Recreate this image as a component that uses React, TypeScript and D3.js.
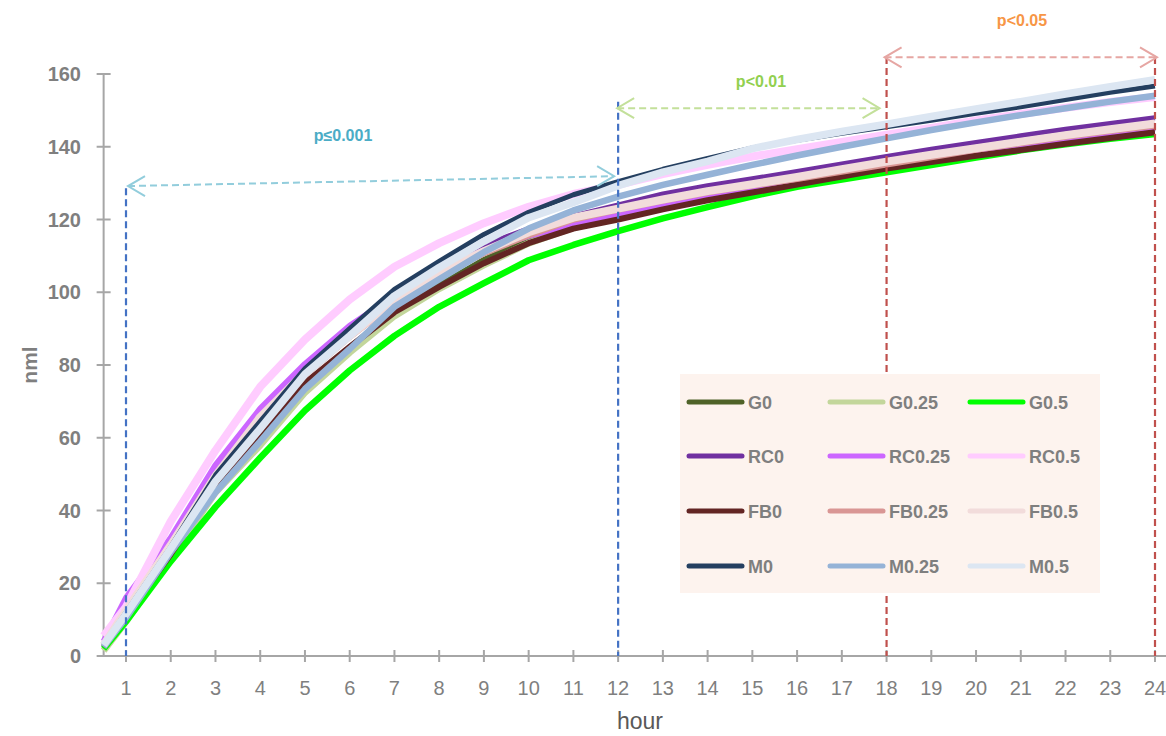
import React from "react";
import * as d3 from "d3";

// Hourly sampling points (first sample sits half a step before hour 1)
const hours = [0.5, 1, 2, 3, 4, 5, 6, 7, 8, 9, 10, 11, 12, 13, 14, 15, 16, 17, 18, 19, 20, 21, 22, 23, 24];
const xTicks = [1, 2, 3, 4, 5, 6, 7, 8, 9, 10, 11, 12, 13, 14, 15, 16, 17, 18, 19, 20, 21, 22, 23, 24];
const yTicks = [0, 20, 40, 60, 80, 100, 120, 140, 160];

// Cumulative volume (nml) per treatment
const G0 = [2.5, 10.5, 28, 46, 60, 74, 85, 94.5, 102, 109, 114.8, 118.5, 120.8, 123.4, 125.8, 128, 130, 132, 134, 136, 138, 140, 141.8, 143.4, 145];
const G025 = [1.5, 9.5, 27, 45, 58, 72.5, 83.5, 93.5, 101, 107.5, 113.5, 117.8, 120.5, 123.3, 125.8, 128.2, 130.4, 132.5, 134.5, 136.5, 138.4, 140.3, 142, 143.6, 145.3];
const G05 = [2, 9.5, 26, 41, 54.5, 67.5, 78.5, 88, 96, 102.5, 108.8, 113, 116.8, 120.3, 123.4, 126.4, 129, 131, 133, 135, 137, 139, 140.7, 142.2, 143.5];
const RC0 = [3, 15, 31, 51, 66, 79, 90.5, 99.5, 107, 113, 117.5, 121, 124, 127, 129.3, 131.2, 133.2, 135.3, 137.3, 139.3, 141.2, 143, 144.8, 146.4, 148];
const RC025 = [4, 16, 32.5, 52.5, 68, 80.3, 90.8, 99, 106, 111.5, 115.5, 118.5, 121.2, 123.8, 126.2, 128.5, 130.5, 132.5, 134.5, 136.5, 138.5, 140.3, 142, 143.6, 145];
const RC05 = [5.5, 13.5, 37, 56.5, 74, 87, 98, 107, 113.5, 119, 123.5, 127, 129.5, 132.5, 135, 137.3, 139.3, 141.3, 143.3, 145.2, 147.2, 149, 150.7, 152.3, 153.7];
const FB0 = [2.5, 11, 28, 46.5, 60, 75, 85, 94.5, 101.5, 108, 113.5, 117.5, 120, 122.8, 125.3, 127.4, 129.6, 131.8, 134, 135.8, 137.5, 139.1, 140.8, 142.4, 144];
const FB025 = [3, 12, 29.5, 48.5, 64.5, 77, 87.5, 97, 104.5, 110.5, 115.5, 119.8, 122.5, 125, 127.3, 129.2, 131, 133, 135, 137, 139, 140.8, 142.6, 144.2, 145.6];
const FB05 = [3, 12.5, 30.5, 49.5, 65.7, 78, 88, 97.8, 105.5, 111.3, 116.5, 120.5, 123, 125.5, 127.8, 129.7, 131.7, 133.8, 135.9, 137.8, 139.6, 141.4, 143.2, 144.8, 146.4];
const M0 = [3, 12, 30, 49.7, 64.5, 79, 90, 100.8, 108.5, 115.9, 122, 126.8, 130.4, 133.8, 136.8, 139.7, 141.8, 143.7, 145.5, 147.3, 149.2, 151, 153, 155, 156.7];
const M025 = [2.5, 10.5, 28.5, 45, 59, 73.4, 84.4, 96, 103.6, 111, 117.5, 122.5, 126.3, 129.5, 132.3, 135, 137.6, 140, 142.3, 144.6, 146.7, 148.7, 150.6, 152.4, 154];
const M05 = [3, 11.5, 29.5, 48, 62.5, 77.5, 88, 99, 106.8, 114, 120.5, 124.7, 129.3, 133, 136, 139.5, 142, 144.2, 146.2, 148.3, 150.4, 152.4, 154.5, 156.5, 158.4];

const seriesNames = ["G0", "G0.25", "G0.5", "RC0", "RC0.25", "RC0.5", "FB0", "FB0.25", "FB0.5", "M0", "M0.25", "M0.5"];
const seriesValues = [G0, G025, G05, RC0, RC025, RC05, FB0, FB025, FB05, M0, M025, M05];
const seriesColors = ["#4F6228", "#C3D69B", "#00FF00", "#7030A0", "#CC66FF", "#FFCCFF", "#632523", "#D99694", "#F2DCDB", "#243F60", "#95B3D7", "#DCE6F2"];
const seriesWidths = [5, 7, 6.5, 5, 6, 8, 6, 5, 8, 5, 6.5, 7.5];

// Significance brackets: hour range and label
const bracketStart = [1, 12, 18];
const bracketEnd = [12, 18, 24];
const bracketLabels = ["p\u22640.001", "p<0.01", "p<0.05"];

const W = 1166;
const H = 736;
const FONT = "'Liberation Sans', Arial, sans-serif";
const GRAY = "#7F7F7F";
const AXIS = "#A6A6A6";

export default function App() {
  const x = d3.scaleLinear().domain([1, 24]).range([126, 1155]);
  const y = d3.scaleLinear().domain([0, 160]).range([656, 74]);
  const line = d3
    .line<number>()
    .x((_, i) => x(hours[i]))
    .y((d) => y(d));

  const x0 = x(0.5);

  // bracket geometry (arrow levels in nml, tip offsets in px)
  const arrows = [
    { x1: x(bracketStart[0]) + 2, y1: y(129.2), x2: x(bracketEnd[0]) - 4, y2: y(131.9), color: "#92CDDC", text: "#4BACC6", tx: 343, ty: y(141.5) },
    { x1: x(bracketStart[1]) - 1, y1: y(150.6), x2: x(bracketEnd[1]) - 7, y2: y(150.6), color: "#C3E09A", text: "#92D050", tx: 761, ty: y(156.3) },
    { x1: x(bracketStart[2]) - 2, y1: y(164.6), x2: x(bracketEnd[2]) + 2, y2: y(164.6), color: "#E6A6A3", text: "#F79646", tx: 1022, ty: y(173.2) },
  ];
  const verticals = [
    { h: 1, top: 128.6, color: "#4472C4" },
    { h: 12, top: 152.4, color: "#4472C4" },
    { h: 18, top: 164.7, color: "#C0504D" },
    { h: 24, top: 164.7, color: "#C0504D" },
  ];

  const chevron = (tx: number, ty: number, dir: number) =>
    `M${tx - dir * 17},${ty - 10}L${tx},${ty}L${tx - dir * 17},${ty + 10}`;

  // legend layout
  const legX = 680;
  const legY = 374;
  const colX = [687, 828, 968];
  const rowY = [402, 456, 511, 566];

  return (
    <svg width={W} height={H} style={{ position: "absolute", left: 0, top: 0, display: "block", background: "#fff" }}>
      {/* axes */}
      <line x1={x0} y1={y(160)} x2={x0} y2={y(0)} stroke={AXIS} strokeWidth={2} />
      {yTicks.map((t) => (
        <g key={"y" + t}>
          <line x1={x0 - 7} x2={x0 + 7} y1={y(t)} y2={y(t)} stroke={AXIS} strokeWidth={2} />
          <text x={81} y={y(t)} dy="0.36em" textAnchor="end" fontFamily={FONT} fontWeight="bold" fontSize={20} fill={GRAY}>
            {t}
          </text>
        </g>
      ))}
      <line x1={97} y1={y(0)} x2={W} y2={y(0)} stroke={AXIS} strokeWidth={2} />
      {xTicks.map((t) => (
        <g key={"x" + t}>
          <line x1={x(t)} x2={x(t)} y1={y(0) - 6} y2={y(0) + 6} stroke={AXIS} strokeWidth={2} />
          <text x={x(t)} y={695} textAnchor="middle" fontFamily={FONT} fontSize={20} fill={GRAY}>
            {t}
          </text>
        </g>
      ))}
      <text x={640} y={729} textAnchor="middle" fontFamily={FONT} fontSize={23} fill="#595959">
        hour
      </text>
      <text
        transform={`translate(37,365) rotate(-90)`}
        textAnchor="middle"
        fontFamily={FONT}
        fontWeight="bold"
        fontSize={21}
        fill={GRAY}
      >
        nml
      </text>

      {/* series */}
      {seriesValues.map((vals, i) => (
        <path
          key={seriesNames[i]}
          d={line(vals) || ""}
          fill="none"
          stroke={seriesColors[i]}
          strokeWidth={seriesWidths[i]}
          strokeLinejoin="round"
        />
      ))}

      {/* significance markers */}
      {verticals.map((v) => (
        <line
          key={"v" + v.h}
          x1={x(v.h)}
          x2={x(v.h)}
          y1={y(v.top)}
          y2={y(0)}
          stroke={v.color}
          strokeWidth={2.2}
          strokeDasharray="7,4"
        />
      ))}
      {arrows.map((a, i) => (
        <g key={"a" + i}>
          <line x1={a.x1} y1={a.y1} x2={a.x2} y2={a.y2} stroke={a.color} strokeWidth={2} strokeDasharray="7,4" />
          <path d={chevron(a.x1, a.y1, -1)} fill="none" stroke={a.color} strokeWidth={2} />
          <path d={chevron(a.x2, a.y2, 1)} fill="none" stroke={a.color} strokeWidth={2} />
          <text x={a.tx} y={a.ty} textAnchor="middle" fontFamily={FONT} fontWeight="bold" fontSize={16} fill={a.text}>
            {bracketLabels[i]}
          </text>
        </g>
      ))}

      {/* legend */}
      <rect x={legX} y={legY} width={420} height={219} fill="#FDF3EE" />
      {seriesNames.map((name, i) => {
        const r = Math.floor(i / 3);
        const c = i % 3;
        const lx = colX[c];
        const ly = rowY[r];
        return (
          <g key={"l" + name}>
            <line x1={lx + 2} x2={lx + 55} y1={ly} y2={ly} stroke={seriesColors[i]} strokeWidth={5} strokeLinecap="round" />
            <text x={lx + 61} y={ly + 7} fontFamily={FONT} fontWeight="bold" fontSize={18} fill={GRAY}>
              {name}
            </text>
          </g>
        );
      })}
    </svg>
  );
}
